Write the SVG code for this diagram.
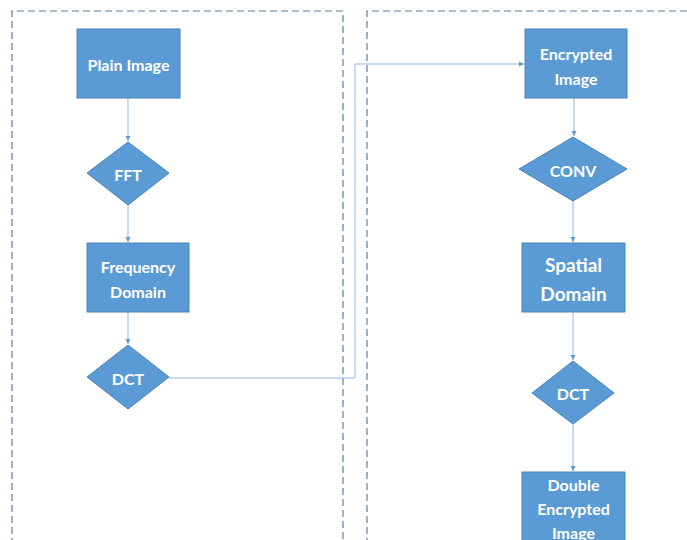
<svg xmlns="http://www.w3.org/2000/svg" width="687" height="540" viewBox="0 0 687 540">
<defs>
<style>
.box{fill:#5B9BD5;stroke:#4A83B8;stroke-width:1}
.lane{fill:none;stroke:#5A7FA3;stroke-width:1.2;stroke-dasharray:7 4}
.conn{fill:none;stroke:#8DB7E0;stroke-width:1}
text{font-family:Lato,"Open Sans","Liberation Sans",sans-serif;font-weight:bold;fill:#fff;text-anchor:middle;dominant-baseline:central;font-size:16px}
.big{font-size:19px}
</style>
<marker id="ah" markerWidth="6" markerHeight="6" refX="5" refY="3" orient="auto" markerUnits="userSpaceOnUse">
<path d="M0,0.5 L5,3 L0,5.5 Z" fill="#5B9BD5"/>
</marker>
</defs>
<rect width="687" height="540" fill="#fff"/>
<g id="lanes">
<path class="lane" d="M12,545 V11 H343 V545"/>
<path class="lane" d="M367,545 V11 H695"/>
</g>
<g id="connectors">
<line class="conn" x1="128" y1="98" x2="128" y2="141" marker-end="url(#ah)"/>
<line class="conn" x1="128" y1="205" x2="128" y2="242" marker-end="url(#ah)"/>
<line class="conn" x1="128" y1="312" x2="128" y2="344" marker-end="url(#ah)"/>
<path class="conn" d="M169,378 H355 V64 H524" marker-end="url(#ah)"/>
<line class="conn" x1="574" y1="98" x2="574" y2="136" marker-end="url(#ah)"/>
<line class="conn" x1="573" y1="201" x2="573" y2="242" marker-end="url(#ah)"/>
<line class="conn" x1="573" y1="312" x2="573" y2="360" marker-end="url(#ah)"/>
<line class="conn" x1="573" y1="424" x2="573" y2="471" marker-end="url(#ah)"/>
</g>
<g id="plain-image">
<rect class="box" x="77" y="29" width="103" height="69"/>
<text x="128.5" y="64">Plain Image</text>
</g>
<g id="fft">
<polygon class="box" points="128,142 169,173 128,205 87,173"/>
<text x="128" y="174">FFT</text>
</g>
<g id="frequency-domain">
<rect class="box" x="87" y="243" width="102" height="69"/>
<text x="138" y="266">Frequency</text>
<text x="138" y="291">Domain</text>
</g>
<g id="dct1">
<polygon class="box" points="128,345 169,377 128,409 87,377"/>
<text x="128" y="378">DCT</text>
</g>
<g id="encrypted-image">
<rect class="box" x="525" y="29" width="102" height="69"/>
<text x="576" y="53">Encrypted</text>
<text x="576" y="78">Image</text>
</g>
<g id="conv">
<polygon class="box" points="573,137 627,169 573,201 519,169"/>
<text x="573" y="170">CONV</text>
</g>
<g id="spatial-domain">
<rect class="box" x="522" y="243" width="103" height="69"/>
<text class="big" x="573.5" y="264">Spatial</text>
<text class="big" x="573.5" y="293">Domain</text>
</g>
<g id="dct2">
<polygon class="box" points="573,361 614,393 573,424 532,393"/>
<text x="573" y="393">DCT</text>
</g>
<g id="double-encrypted-image">
<rect class="box" x="522" y="472" width="103" height="80"/>
<text x="573.5" y="484">Double</text>
<text x="573.5" y="508">Encrypted</text>
<text x="573.5" y="532">Image</text>
</g>
</svg>
